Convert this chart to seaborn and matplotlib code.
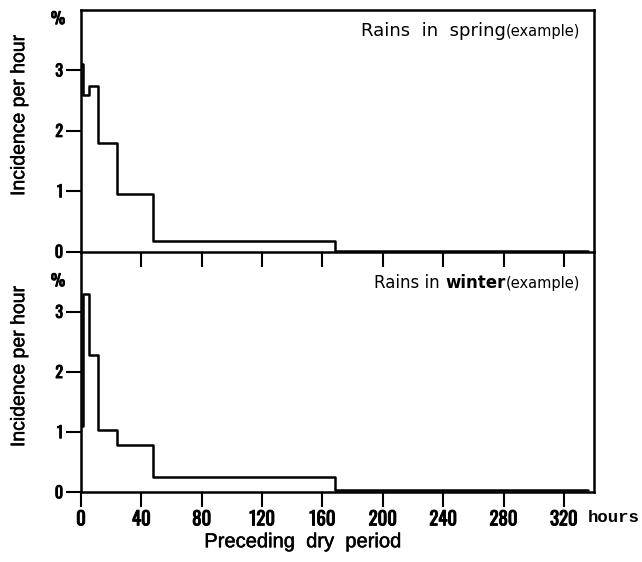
import matplotlib
matplotlib.use("Agg")
import matplotlib.pyplot as plt
import matplotlib.patheffects as pe
from matplotlib.offsetbox import TextArea, HPacker, AnchoredOffsetbox
import pandas as pd
import seaborn as sns

# Dry-period classes (hours) and rain incidence per hour (%) for each class
edges = [0, 1, 5, 11, 24, 48, 168, 336]
spring = [3.1, 2.6, 2.75, 1.8, 0.95, 0.18, 0.02]
winter = [1.1, 3.3, 2.28, 1.04, 0.79, 0.26, 0.04]

x_ticks = [0, 40, 80, 120, 160, 200, 240, 280, 320]
y_ticks = [0, 1, 2, 3]

sns.set_style("ticks")
plt.rcParams.update({
    "font.family": ["DejaVu Sans"],
    "text.color": "black",
    "axes.labelcolor": "black",
    "xtick.color": "black",
    "ytick.color": "black",
    "axes.edgecolor": "black",
})

DIGITS = ["Oswald", "Roboto Condensed", "Liberation Sans Narrow", "DejaVu Sans"]
LABEL = ["Liberation Sans", "DejaVu Sans"]
HEAVY = [pe.withStroke(linewidth=0.7, foreground="black")]
MEDIUM = [pe.withStroke(linewidth=0.35, foreground="black")]

fig = plt.figure(figsize=(6.42, 5.62), dpi=100)
ax1 = fig.add_axes([0.1262, 0.5521, 0.7991, 0.4301])
ax2 = fig.add_axes([0.1262, 0.1240, 0.7991, 0.4281])
ax1.set_zorder(3)
ax2.patch.set_facecolor("none")


def step_frame(values):
    return pd.DataFrame({"hours": edges, "rate": list(values) + [values[-1]]})


for ax, vals in ((ax1, spring), (ax2, winter)):
    sns.lineplot(data=step_frame(vals), x="hours", y="rate", ax=ax,
                 drawstyle="steps-post", estimator=None, color="black",
                 linewidth=1.8)
    ax.set_xlim(0, 340)
    ax.set_ylim(0, 4.0)
    ax.set_yticks(y_ticks)
    ax.set_yticklabels([str(v) for v in y_ticks], fontfamily=DIGITS,
                       fontsize=11.5, fontweight="bold")
    for lab in ax.get_yticklabels():
        lab.set_path_effects(HEAVY)
    ax.tick_params(axis="both", direction="out", length=10.8, width=1.5,
                   color="black", pad=2.2)
    for s in ax.spines.values():
        s.set_linewidth(1.8)
        s.set_color("black")
    ax.set_ylabel("Incidence per hour", fontfamily=LABEL, fontsize=14,
                  path_effects=MEDIUM)
    ax.set_xlabel("")

# upper panel: ticks hang into the lower panel, no labels
ax1.set_xticks(x_ticks[1:])
ax1.tick_params(axis="x", labelbottom=False)
ax2.spines["top"].set_visible(False)

# lower panel: labelled hour axis
ax2.set_xticks(x_ticks)
ax2.set_xticklabels([str(v) for v in x_ticks], fontfamily=DIGITS,
                    fontsize=13.5, fontweight="bold")
for lab in ax2.get_xticklabels():
    lab.set_path_effects(HEAVY)
ax2.annotate("hours", xy=(336, 0), xycoords=("data", "axes fraction"),
             xytext=(0, -18), textcoords="offset pixels", ha="left", va="top",
             fontfamily=["Liberation Mono", "DejaVu Sans Mono"],
             fontweight="bold", fontsize=12.5)
ax2.set_xlabel("Preceding  dry  period", fontfamily=LABEL, fontsize=14.5,
               path_effects=MEDIUM)
ax2.xaxis.set_label_coords(0.433, -0.166)

ax1.yaxis.set_label_coords(-0.103, 0.566)
ax2.yaxis.set_label_coords(-0.103, 0.525)

# percent unit marks above the y tick labels
for ax, ypos in ((ax1, 3.84), (ax2, 3.5)):
    ax.annotate("%", xy=(0, ypos), xycoords=("axes fraction", "data"),
                xytext=(-23, 0), textcoords="offset pixels",
                ha="center", va="center", fontfamily=DIGITS,
                fontsize=11.5, fontweight="bold", path_effects=HEAVY)


def panel_title(ax, parts, y_px):
    boxes = [TextArea(t, textprops=p) for t, p in parts]
    pack = HPacker(children=boxes, align="baseline", pad=0, sep=0)
    anchored = AnchoredOffsetbox(loc="upper right", child=pack, pad=0,
                                 frameon=False, borderpad=0,
                                 bbox_to_anchor=(1 - 14 / 513, 1 - y_px / 241),
                                 bbox_transform=ax.transAxes)
    ax.add_artist(anchored)


panel_title(ax1, [("Rains  in  spring", dict(fontsize=13, color="black")),
                  ("(example)", dict(fontsize=10.5, color="black"))], 12)
panel_title(ax2, [("Rains in ", dict(fontsize=12, color="black")),
                  ("winter", dict(fontsize=12, fontweight="bold", color="black")),
                  ("(example)", dict(fontsize=10.5, color="black"))], 22)

fig.savefig("out.png", dpi=100)
